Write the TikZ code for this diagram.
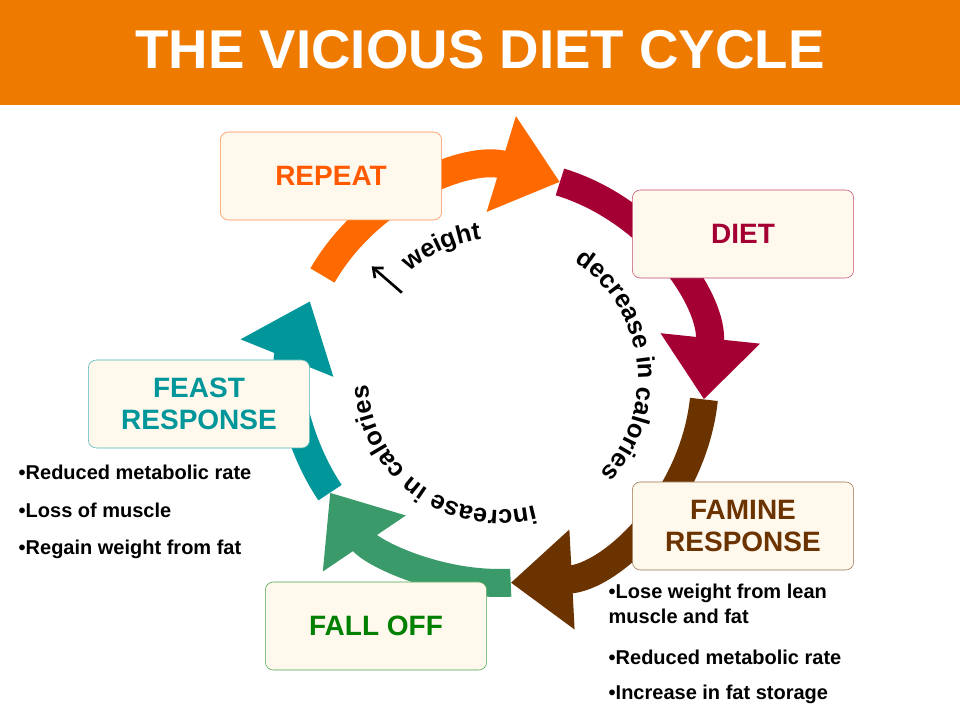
\documentclass[tikz,border=0pt]{standalone}
\usepackage{fontspec}
\setmainfont{Liberation Sans}
\usetikzlibrary{arrows.meta,decorations.text,calc}
\definecolor{hdr}{HTML}{EF7A00}
\definecolor{cOrange}{HTML}{FF6A00}
\definecolor{cCrimson}{HTML}{A50034}
\definecolor{cBrown}{HTML}{6B3300}
\definecolor{cGreen}{HTML}{3A9A6A}
\definecolor{cTeal}{HTML}{00969A}
\definecolor{boxfill}{HTML}{FFF8EC}
\tikzset{
  ring/.style={line width=21pt,-{Triangle[length=46pt,width=72pt]}},
  stage/.style={draw=#1!70,fill=boxfill,rounded corners=6pt,minimum width=166pt,minimum height=66pt,
    text=#1,font=\bfseries\fontsize{21}{24}\selectfont,align=center},
  bullet/.style={anchor=west,font=\bfseries\fontsize{15}{19}\selectfont,align=left},
  curved/.style={decorate,decoration={text along path,text align=center,text={|\bfseries\fontsize{19}{22}\selectfont|#1}}}
}
\begin{document}
\begin{tikzpicture}[x=0.75pt,y=0.75pt]
  \useasboundingbox (0,0) rectangle (960,720);
  \fill[white] (0,0) rectangle (960,720);
  % header
  \fill[hdr] (0,615) rectangle (960,720);
  \node[text=white,font=\bfseries\fontsize{41}{44}\selectfont] (title) at (480,670) {THE VICIOUS DIET CYCLE};
  % cycle
  \coordinate (c) at (500,342);
  \draw[ring,cTeal] ($(c)+(-146:205)$) arc[start angle=-146,end angle=-202,radius=205];
  \draw[ring,cOrange] ($(c)+(150:205)$) arc[start angle=150,end angle=73,radius=205];
  \draw[ring,cCrimson] ($(c)+(73:205)$) arc[start angle=73,end angle=-6,radius=205];
  \draw[ring,cBrown] ($(c)+(-6:205)$) arc[start angle=-6,end angle=-87,radius=205];
  \draw[ring,cGreen] ($(c)+(-87:205)$) arc[start angle=-87,end angle=-146,radius=205];
  % curved labels
  \path[curved={decrease in calories}] ($(c)+(64:138)$) arc[start angle=64,end angle=-50,radius=138];
  \path[curved={increase in calories}] ($(c)+(-70:132)$) arc[start angle=-70,end angle=-182,radius=132];
  \path[curved={weight}] ($(c)+(132:140)$) arc[start angle=132,end angle=96,radius=140];
  \draw[line width=2pt,-{Straight Barb[length=6pt,width=10pt]}] ($(c)+(139:130)$) -- ($(c)+(139:170)$);
  % stages
  \node[stage=cOrange!85!red] (repeat) at (331,544) {REPEAT};
  \node[stage=cCrimson] (diet) at (743,486) {DIET};
  \node[stage=cBrown] (famine) at (743,194) {FAMINE\\RESPONSE};
  \node[stage=green!50!black] (falloff) at (376,94) {FALL OFF};
  \node[stage=cTeal] (feast) at (199,316) {FEAST\\RESPONSE};
  % notes
  \node[bullet] (f1) at (14,248) {•Reduced metabolic rate};
  \node[bullet] (f2) at (14,210) {•Loss of muscle};
  \node[bullet] (f3) at (14,171) {•Regain weight from fat};
  \node[bullet] (m1) at (604,116) {•Lose weight from lean\\muscle and fat};
  \node[bullet] (m2) at (604,63) {•Reduced metabolic rate};
  \node[bullet] (m3) at (604,26) {•Increase in fat storage};
\end{tikzpicture}
\end{document}
